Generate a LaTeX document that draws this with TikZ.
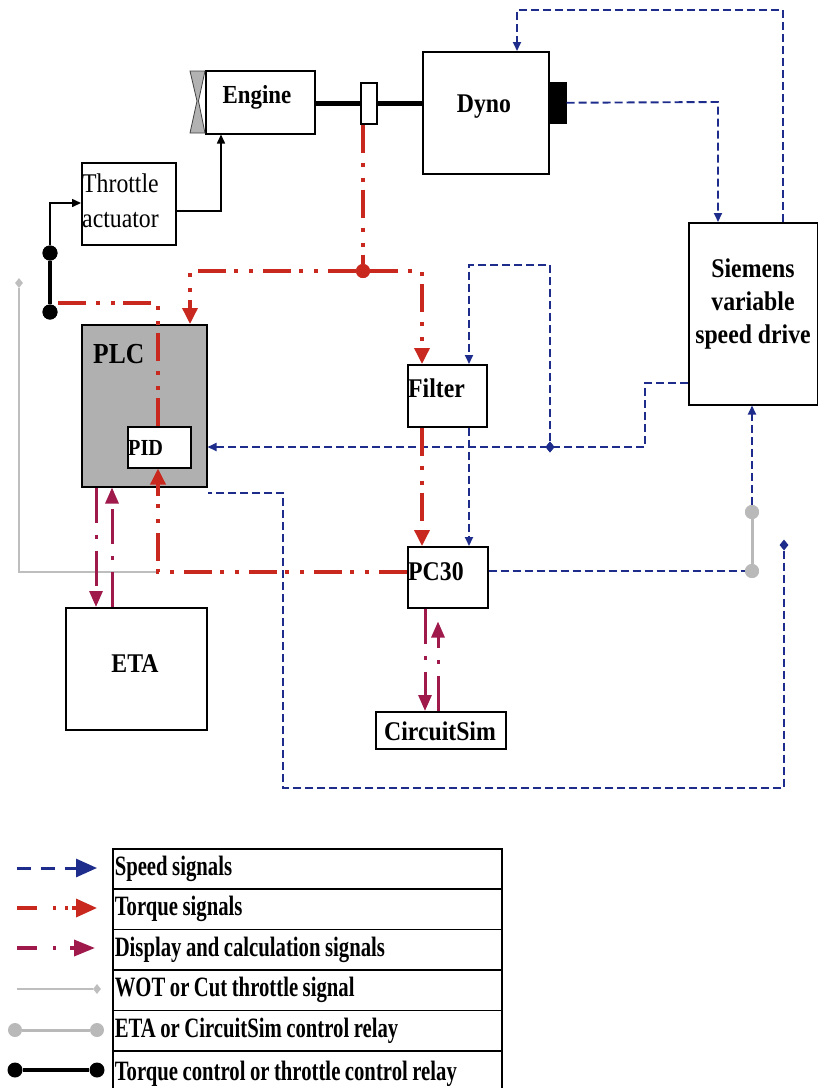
\documentclass[tikz,border=0pt]{standalone}
\usepackage{fontspec}
\setmainfont{Liberation Serif}[FakeStretch=0.88]
\newfontfamily\legfont{Liberation Serif}[FakeStretch=0.74]
\usetikzlibrary{arrows.meta,shapes.geometric}
\definecolor{spd}{RGB}{30,45,140}
\definecolor{tqc}{RGB}{200,40,30}
\definecolor{dcc}{RGB}{160,25,75}
\definecolor{relg}{RGB}{185,185,185}
\definecolor{wotc}{RGB}{190,190,190}
\definecolor{plcg}{RGB}{176,176,176}
\newcommand\legspace{\spaceskip=4.5pt plus 1pt minus 1pt\relax}
\tikzset{
  box/.style={draw, line width=1.5pt, fill=white, inner sep=0pt, anchor=north west},
  lbl/.style={font=\fontsize{27}{30}\selectfont\bfseries, inner sep=0pt},
  sp/.style={draw=spd, line width=1.9pt, dash pattern=on 8pt off 4pt},
  spa/.style={sp, -{Triangle[length=9pt,width=8pt]}},
  tq/.style={draw=tqc, line width=3.5pt, dash pattern=on 28pt off 10pt on 4pt off 11pt on 4pt off 8pt},
  tqa/.style={tq, -{Triangle[length=16pt,width=15pt]}},
  dc/.style={draw=dcc, line width=3pt, dash pattern=on 35pt off 12pt on 4pt off 12pt},
  dca/.style={dc, -{Triangle[length=16pt,width=13pt]}},
  blk/.style={draw=black, line width=1.5pt},
  blka/.style={blk, -{Triangle[length=9pt,width=8pt]}},
  relay/.style={draw=black, line width=3.5pt},
  grelay/.style={draw=relg, line width=3pt},
  wot/.style={draw=wotc, line width=1.3pt},
  shaft/.style={draw=black, line width=5pt},
  bdot/.style={circle, fill=black, minimum size=15pt, inner sep=0pt},
  gdot/.style={circle, fill=relg, minimum size=14pt, inner sep=0pt},
  rdot/.style={circle, fill=tqc, minimum size=14pt, inner sep=0pt},
  sdia/.style={diamond, fill=spd, minimum width=9pt, minimum height=11pt, inner sep=0pt},
  gdia/.style={diamond, fill=wotc, minimum width=8pt, minimum height=10pt, inner sep=0pt},
  legrow/.style={draw, line width=1.5pt, anchor=north west, minimum width=389pt, minimum height=40.4pt,
    text width=385pt, align=left, inner xsep=2pt, inner ysep=0pt,
    font=\legfont\fontsize{28}{30}\selectfont\bfseries,
    execute at begin node=\legspace}
}
\begin{document}
\begin{tikzpicture}[x=1pt,y=-1pt]
\useasboundingbox (0,0) rectangle (818,1088);

% ---------- boxes ----------
\node[box, minimum width=109pt, minimum height=63pt] (engine) at (205,70) {};
\fill[gray!60, draw=gray!50!black, line width=0.8pt] (190,71) -- (205,71) -- (198.5,101) -- (205,133) -- (190,133) -- (197,101) -- cycle;
\node[box, minimum width=16pt, minimum height=41pt] (cpl) at (360,82) {};
\node[box, minimum width=126pt, minimum height=122pt] (dyno) at (422,51) {};
\node[box, fill=black, minimum width=17pt, minimum height=40pt] (blockr) at (548,82) {};
\node[box, minimum width=94pt, minimum height=82pt] (throttle) at (81,162) {};
\node[box, fill=plcg, minimum width=125pt, minimum height=162pt] (plc) at (81,324) {};
\node[box, minimum width=63pt, minimum height=41pt] (pid) at (127,426) {};
\node[box, minimum width=79pt, minimum height=62pt] (filter) at (407,364) {};
\node[box, minimum width=80pt, minimum height=61pt] (pc30) at (407,546) {};
\node[box, minimum width=141pt, minimum height=122pt] (eta) at (65,607) {};
\node[box, minimum width=130pt, minimum height=37pt] (circ) at (375,711) {};
\node[box, minimum width=129pt, minimum height=182pt] (sie) at (688,222) {};

% ---------- labels ----------
\node[lbl, font=\fontsize{26}{30}\selectfont\bfseries, anchor=base] at (257,103) {Engine};
\node[lbl, anchor=base] at (484,112) {Dyno};
\node[inner sep=0pt, anchor=base west, font=\fontsize{27}{30}\selectfont] at (82,192) {Throttle};
\node[inner sep=0pt, anchor=base west, font=\fontsize{27}{30}\selectfont] at (82,227) {actuator};
\node[lbl, anchor=base west, font=\fontsize{29}{30}\selectfont\bfseries] at (93,363) {PLC};
\node[lbl, anchor=base west, font=\fontsize{23}{30}\selectfont\bfseries] at (128,455) {PID};
\node[lbl, anchor=base west] at (408,397) {Filter};
\node[lbl, anchor=base west] at (408,580) {PC30};
\node[lbl, anchor=base] at (135,672) {ETA};
\node[lbl, anchor=base] at (440,740) {CircuitSim};
\node[lbl, align=center, font=\fontsize{27}{33}\selectfont\bfseries] at (753,304) {Siemens\\variable\\speed drive};

% ---------- bend coordinates ----------
\coordinate (t1) at (783,10);
\coordinate (t2) at (517,10);
\coordinate (t3) at (718,102);
\coordinate (s1) at (645,383);
\coordinate (s2) at (645,447);
\coordinate (f1) at (550,265);
\coordinate (f2) at (469,265);
\coordinate (p1) at (283,788);
\coordinate (p2) at (283,493);
\coordinate (p3) at (784,788);
\coordinate (r2) at (190,271);
\coordinate (r3) at (422,271);
\coordinate (r4) at (158,303);
\coordinate (r5) at (58,303);
\coordinate (rB) at (158,572);
\coordinate (k1) at (50,203);
\coordinate (k2) at (221,211);
\coordinate (m1) at (96,0);
\coordinate (m2) at (112,0);
\coordinate (m3) at (425,0);
\coordinate (m4) at (438,0);

% markers (positions)
\node[bdot] (b1) at (50,253) {};
\node[bdot] (b2) at (50,312) {};
\node[gdot] (g1) at (752,512) {};
\node[gdot] (g2) at (752,571) {};
\node[rdot] (r1) at (363,271) {};
\node[sdia] (d1) at (550,447) {};
\node[sdia] (d2) at (784,545) {};
\node[gdia] (w1) at (19,283) {};

% ---------- WOT line ----------
\draw[wot] (rB) -| (w1.south);

% ---------- shaft ----------
\draw[shaft] (engine.east |- cpl.west) -- (cpl.west);
\draw[shaft] (cpl.east) -- (dyno.west |- cpl.east);

% ---------- black ----------
\draw[blka] (b1) -- (k1) -- (throttle.west |- k1);
\draw[blka] (throttle.east |- k2) -- (k2) -- (engine.south -| k2);
\draw[relay] (b1) -- (b2);

% ---------- speed (blue) ----------
\draw[spa] (sie.north -| t1) -- (t1) -- (t2) -- (dyno.north -| t2);
\draw[spa] (blockr.east) -- (t3) -- (sie.north -| t3);
\draw[spa] (sie.west |- s1) -- (s1) -- (s2) -- (plc.east |- s2);
\draw[spa] (d1) -- (f1) -- (f2) -- (filter.north -| f2);
\draw[spa] (filter.south -| f2) -- (pc30.north -| f2);
\draw[sp] (pc30.east |- g2) -- (g2);
\draw[spa] (g1) -- (sie.south -| g1);
\draw[sp] (d2) -- (p3) -- (p1) -- (p2) -- (plc.east |- p2);
\draw[grelay] (g1) -- (g2);

% ---------- torque (red) ----------
\draw[tq] (cpl.south -| r1) -- (r1);
\draw[tqa] (r1) -- (r2) -- (plc.north -| r2);
\draw[tqa] (r1) -- (r3) -- (filter.north -| r3);
\draw[tq] (r5) -- (r4) -- (pid.north -| r4);
\draw[tqa] (pc30.west |- rB) -- (rB) -- (pid.south -| rB);
\draw[tqa] (filter.south -| r3) -- (pc30.north -| r3);

% ---------- display (magenta) ----------
\draw[dca] (plc.south -| m1) -- (eta.north -| m1);
\draw[dca] (eta.north -| m2) -- (plc.south -| m2);
\draw[dca] (pc30.south -| m3) -- (circ.north -| m3);
\draw[dca, shorten >=13pt] (circ.north -| m4) -- (pc30.south -| m4);

% redraw markers on top
\node[bdot] at (b1) {};
\node[bdot] at (b2) {};
\node[gdot] at (g1) {};
\node[gdot] at (g2) {};
\node[rdot] at (r1) {};
\node[sdia] at (d1) {};

% ---------- legend ----------
\node[legrow] (L1) at (112,848) {Speed signals};
\node[legrow] (L2) at (112,888.4) {Torque signals};
\node[legrow] (L3) at (112,928.8) {Display and calculation signals};
\node[legrow] (L4) at (112,969.2) {WOT or Cut throttle signal};
\node[legrow] (L5) at (112,1009.6) {ETA or CircuitSim control relay};
\node[legrow, minimum height=46pt] (L6) at (112,1050) {\raisebox{3pt}{\legspace Torque control or throttle control relay}};

\coordinate (la1) at (17,868);   \coordinate (lb1) at (97,868);
\coordinate (la2) at (17,908);   \coordinate (lb2) at (97,908);
\coordinate (la3) at (17,948);   \coordinate (lb3) at (95,948);
\coordinate (la4) at (17,989);
\node[gdia] (lw) at (97,989) {};
\node[gdot] (lg1) at (15,1030) {};
\node[gdot] (lg2) at (97,1030) {};
\node[bdot] (lk1) at (15,1070) {};
\node[bdot] (lk2) at (97,1070) {};

\draw[draw=spd, line width=3pt, dash pattern=on 14pt off 10pt, -{Triangle[length=21pt,width=18pt]}] (la1) -- (lb1);
\draw[draw=tqc, line width=3.5pt, dash pattern=on 20pt off 16pt on 3pt off 9pt on 3pt off 4pt, -{Triangle[length=21pt,width=18pt]}] (la2) -- (lb2);
\draw[draw=dcc, line width=3.5pt, dash pattern=on 20pt off 16pt on 3pt off 14pt, -{Triangle[length=21pt,width=16pt]}] (la3) -- (lb3);
\draw[wot] (la4) -- (lw.west);
\draw[grelay] (lg1) -- (lg2);
\draw[relay] (lk1) -- (lk2);
\end{tikzpicture}
\end{document}
